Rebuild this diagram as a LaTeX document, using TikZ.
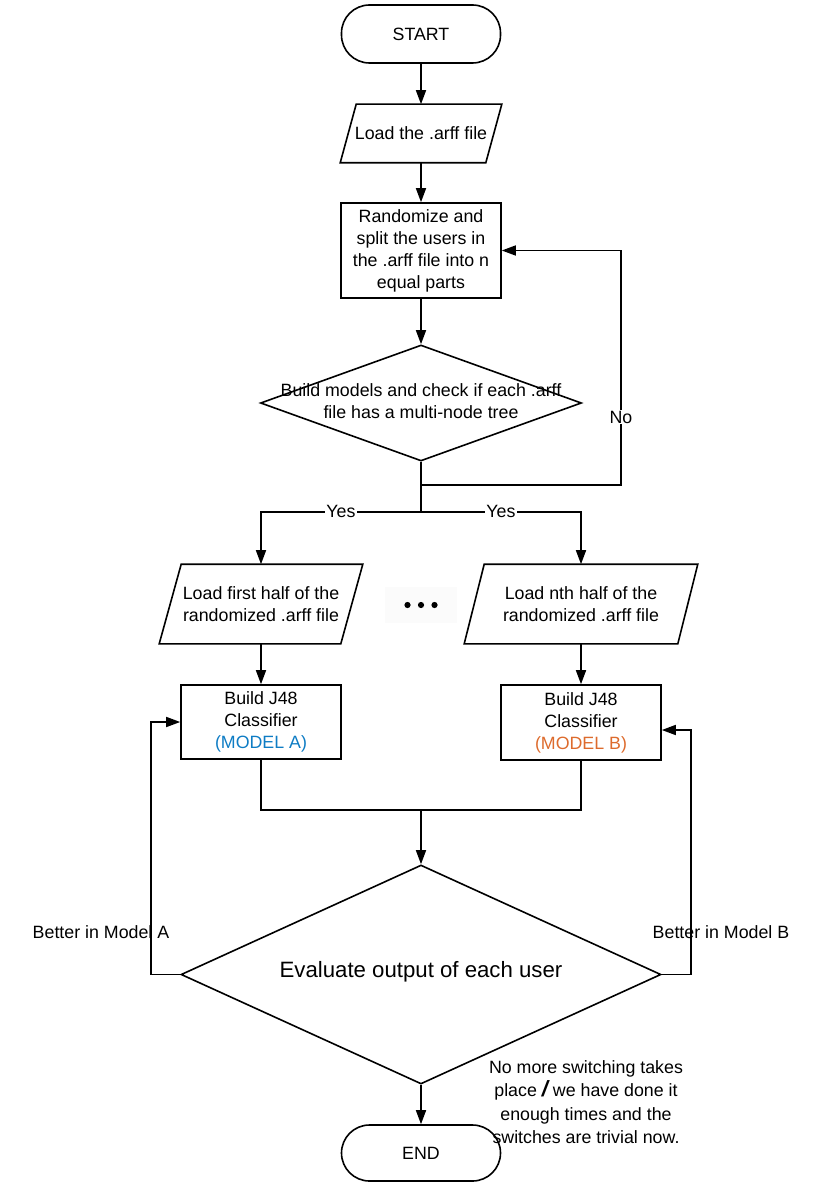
\documentclass[tikz,border=0pt]{standalone}
\usepackage{fontspec}
\setmainfont{Liberation Sans}
\usetikzlibrary{arrows.meta,shapes.geometric,calc}
\definecolor{modelA}{HTML}{0E7CC4}
\definecolor{modelB}{HTML}{DD6B2D}
\begin{document}
\begin{tikzpicture}[x=1pt,y=-1pt,
  line width=1.6pt,
  >={Triangle[length=14pt,width=10pt]},
  txt/.style={font=\fontsize{17.8}{22}\selectfont, align=center, inner sep=0pt},
  term/.style={txt, draw, rounded corners=28pt, minimum width=159pt, minimum height=58pt},
  proc/.style={txt, draw, minimum width=160pt},
  io/.style={txt},
  dec/.style={draw, diamond, inner sep=0pt},
  lbl/.style={font=\fontsize{17.8}{22}\selectfont, fill=white, inner sep=1pt},
  side/.style={font=\fontsize{17.8}{22}\selectfont, inner sep=0pt}
]
\useasboundingbox (0,0) rectangle (839,1190);

% --- top part ---------------------------------------------------------
\node[term] (start) at (421,34) {START};

\node[io, minimum width=144pt, minimum height=57pt] (load) at (421,133.5) {Load the .arff file};
\draw ([xshift=8pt]load.north west) -- ([xshift=8pt]load.north east)
   -- ([xshift=-8pt]load.south east) -- ([xshift=-8pt]load.south west) -- cycle;

\node[proc, minimum height=95pt] (rand) at (421,250.5)
  {Randomize and\\split the users in\\the .arff file into n\\equal parts};

\node[dec, minimum width=321pt, minimum height=116pt] (d1) at (421,403) {};
\node[txt] (d1t) at (421,401) {Build models and check if each .arff\\file has a multi-node tree};

\draw[->] (start) -- (load);
\draw[->] (load) -- (rand);
\draw[->] (rand) -- (d1);

% "No" loop back to the split step
\coordinate (j1) at (421,485);
\coordinate (noc) at (621,485);
\coordinate (not) at (621,250.5);
\draw[->] (d1.south) -- (j1) -- (noc) -- (not) -- (rand.east);
\node[lbl] (no) at (621,417) {No};

% --- branches ----------------------------------------------------------
\node[io, minimum width=180pt, minimum height=78pt] (lp1) at (261,604)
  {Load first half of the\\randomized .arff file};
\draw ([xshift=11pt]lp1.north west) -- ([xshift=11pt]lp1.north east)
   -- ([xshift=-11pt]lp1.south east) -- ([xshift=-11pt]lp1.south west) -- cycle;

\node[io, minimum width=212pt, minimum height=78pt] (lpn) at (581,604)
  {Load nth half of the\\randomized .arff file};
\draw ([xshift=10pt]lpn.north west) -- ([xshift=10pt]lpn.north east)
   -- ([xshift=-10pt]lpn.south east) -- ([xshift=-10pt]lpn.south west) -- cycle;

\node[fill=black!1.5, minimum width=72pt, minimum height=36pt] (dots) at (421,605) {};
\foreach \dx in {-13.5,0,13.5}
  \fill ([xshift=\dx pt]dots.center) circle (3.1pt);

\coordinate (split) at (421,512);
\draw (j1) -- (split);
\draw[->] (split) -| (lp1.north);
\draw[->] (split) -| (lpn.north);
\node[lbl] (yes1) at (341,511) {Yes};
\node[lbl] (yes2) at (501,511) {Yes};

\node[proc, minimum height=74pt] (mA) at (261,722)
  {Build J48\\Classifier\\\textcolor{modelA}{(MODEL A)}};
\node[proc, minimum height=75pt] (mB) at (581,722.5)
  {Build J48\\Classifier\\\textcolor{modelB}{(MODEL B)}};

\draw[->] (lp1) -- (mA);
\draw[->] (lpn) -- (mB);

% --- evaluation ----------------------------------------------------------
\node[dec, minimum width=480pt, minimum height=219pt] (d2) at (421,974.5) {};
\node[txt, font=\fontsize{22.2}{26}\selectfont] (d2t) at (421,972) {Evaluate output of each user};

\coordinate (mAc) at (261,810);
\coordinate (mBc) at (581,810);
\coordinate (merge) at (421,810);
\draw (mA.south) -- (mAc) -- (mBc) -- (mB.south);
\draw[->] (merge) -- (d2.north);

\node[side] (betA) at (101,932) {Better in Model A};
\node[side] (betB) at (721,932) {Better in Model B};

\coordinate (la) at (151,974.5);
\coordinate (la2) at (151,722);
\draw[->] (d2.west) -- (la) -- (la2) -- (mA.west);

\coordinate (rb) at (691,974.5);
\coordinate (rb2) at (691,730);
\draw[->] (d2.east) -- (rb) -- (rb2) -- (mB.east |- rb2);

% --- end ---------------------------------------------------------------
\node[term, minimum height=56pt] (end) at (421,1153) {END};
\draw[->] (d2.south) -- (end);

\node[txt, font=\fontsize{17.8}{23.4}\selectfont] (note) at (586,1102)
  {No more switching takes\\place {\fontsize{22}{22}\selectfont\bfseries\itshape /} we have done it\\enough times and the\\switches are trivial now.};

\end{tikzpicture}
\end{document}
